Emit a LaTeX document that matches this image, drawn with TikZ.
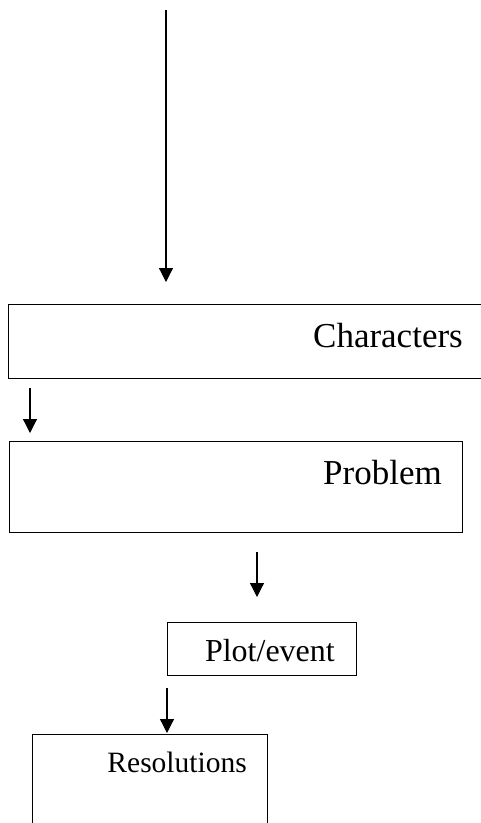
\documentclass[tikz,border=0pt]{standalone}
\usepackage{fontspec}
\setmainfont{Liberation Serif}
\usetikzlibrary{arrows.meta}
\begin{document}
\begin{tikzpicture}[x=1pt,y=-1pt,
  box/.style={draw, line width=1.4pt, rectangle, anchor=north west, inner sep=0pt},
  lbl/.style={inner sep=0pt, anchor=base east},
  flow/.style={line width=1.2pt, -{Triangle[width=14pt,length=14pt]}}]
\useasboundingbox (0,0) rectangle (481,823);
\clip (0,0) rectangle (481,823);
\fill[white] (0,0) rectangle (481,823);
% boxes
\node[box, minimum width=485pt, minimum height=74pt] (chars) at (8,304) {};
\node[box, minimum width=453pt, minimum height=91pt] (prob) at (9,441) {};
\node[box, minimum width=189pt, minimum height=53pt] (plot) at (167,622) {};
\node[box, minimum width=235pt, minimum height=120pt] (res) at (32,734) {};
% labels
\node[lbl, font=\fontsize{35}{40}\selectfont] (tchars) at (463,347) {Characters};
\node[lbl, font=\fontsize{35}{40}\selectfont] (tprob) at (442,484) {Problem};
\node[lbl, font=\fontsize{32}{38}\selectfont] (tplot) at (335,661) {Plot/event};
\node[lbl, font=\fontsize{29.5}{35}\selectfont] (tres) at (247,772) {Resolutions};
% arrow endpoints
\coordinate (a1s) at (166,10);
\coordinate (a1e) at (166,282);
\coordinate (a2s) at (30,388);
\coordinate (a2e) at (30,433);
\coordinate (a3s) at (257,552);
\coordinate (a3e) at (257,597);
\coordinate (a4s) at (167,688);
\coordinate (a4e) at (167,733);
\draw[flow] (a1s) -- (a1e);
\draw[flow] (a2s) -- (a2e);
\draw[flow] (a3s) -- (a3e);
\draw[flow] (a4s) -- (a4e);
\end{tikzpicture}
\end{document}
